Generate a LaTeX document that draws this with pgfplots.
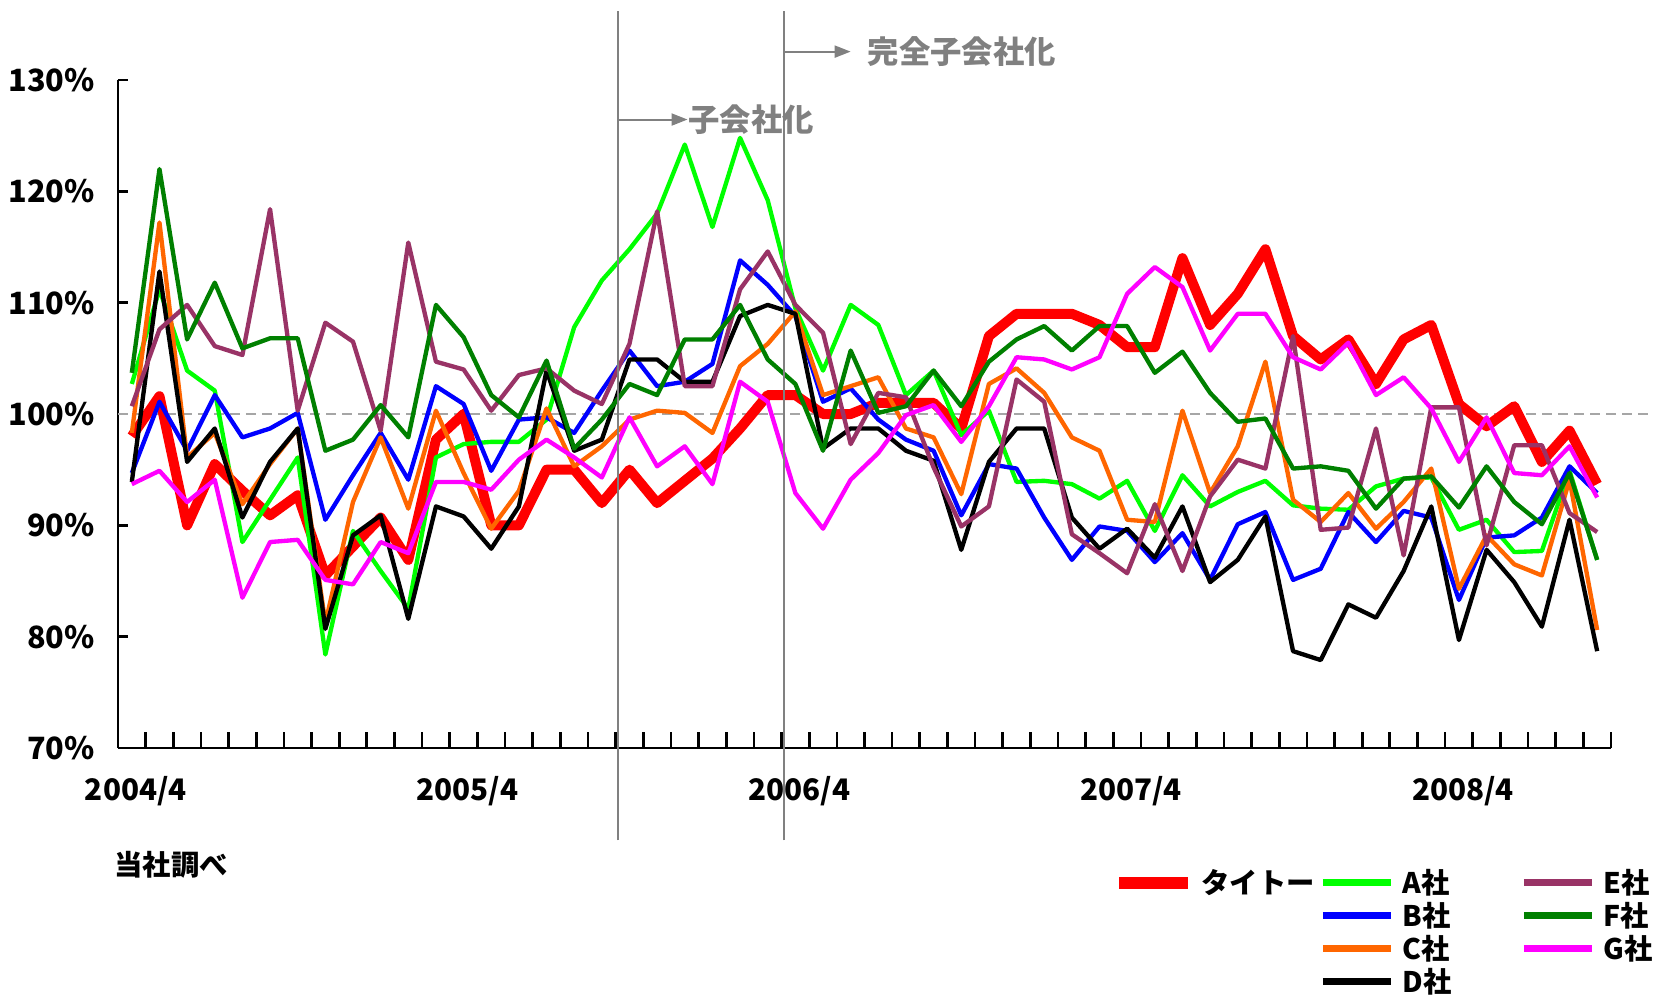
\documentclass[border=0pt]{standalone}
\usepackage{fontspec}
\setmainfont{Noto Sans CJK JP}
\usepackage{pgfplots}
\pgfplotsset{compat=1.18}
\usepackage{pgfplotstable}
\usetikzlibrary{arrows.meta}
\definecolor{cT}{HTML}{FF0000}
\definecolor{cA}{HTML}{00FF00}
\definecolor{cB}{HTML}{0000FF}
\definecolor{cC}{HTML}{FF6600}
\definecolor{cD}{HTML}{000000}
\definecolor{cE}{HTML}{993366}
\definecolor{cF}{HTML}{008000}
\definecolor{cG}{HTML}{FF00FF}
\definecolor{ann}{HTML}{808080}
\definecolor{refl}{HTML}{A6A6A6}

\pgfplotstableread{
i T A B C D E F G
0 98 102.7 94.7 98.3 93.9 100.7 103.7 93.7
1 101.6 111.2 101.1 117.2 112.8 107.6 122.0 94.9
2 90 103.9 96.7 96.1 95.7 109.8 106.7 92.1
3 95.5 102.1 101.7 98.3 98.7 106.1 111.8 94.1
4 93.1 88.5 97.9 91.9 90.7 105.3 105.9 83.5
5 90.9 92.3 98.7 95.5 95.7 118.4 106.8 88.5
6 92.7 96.1 100.1 98.7 98.7 100.3 106.8 88.7
7 85.5 78.4 90.5 81.2 80.7 108.2 96.7 85.1
8 88.1 89.5 94.5 92.1 89.1 106.5 97.7 84.7
9 90.7 85.9 98.3 97.9 90.9 98.5 100.8 88.5
10 86.9 82.5 94.1 91.5 81.6 115.4 97.9 87.5
11 97.7 96.1 102.5 100.3 91.7 104.7 109.8 93.9
12 100 97.3 100.9 94.7 90.8 104 106.9 93.9
13 90 97.5 94.9 89.7 87.9 100.3 101.7 93.2
14 90 97.5 99.5 93.1 91.7 103.5 99.7 95.9
15 95 99.5 99.7 100.5 103.9 104.1 104.8 97.7
16 95 107.8 98.3 95.3 96.7 102.1 96.9 96.1
17 92 112 102.1 97.1 97.7 100.9 99.5 94.3
18 95 114.8 105.7 99.5 104.9 106.3 102.7 99.7
19 92 118 102.5 100.3 104.9 118.2 101.7 95.3
20 94 124.2 102.9 100.1 102.9 102.5 106.7 97.1
21 96 116.8 104.5 98.3 102.9 102.5 106.7 93.7
22 98.7 124.8 113.8 104.3 108.8 111.2 109.8 102.9
23 101.7 119.2 111.6 106.3 109.8 114.6 104.9 101.1
24 101.7 109.5 108.8 109.2 109 109.8 102.7 92.9
25 100 103.9 101.1 101.7 96.9 107.3 96.7 89.7
26 100 109.8 102.3 102.5 98.7 97.3 105.7 94.1
27 101 108 99.5 103.3 98.7 101.9 100.1 96.5
28 101 101.7 97.7 98.7 96.7 101.5 100.7 99.9
29 101 103.9 96.7 97.9 95.8 95.2 103.9 100.8
30 98.7 98.1 90.9 92.8 87.8 89.9 100.7 97.5
31 107 100.3 95.5 102.7 95.7 91.7 104.7 100.7
32 109 93.9 95.1 104.1 98.7 103.1 106.7 105.1
33 109 94 90.7 101.9 98.7 101.1 107.9 104.9
34 109 93.7 86.9 97.9 90.7 89.2 105.7 104
35 108 92.4 89.9 96.7 87.9 87.5 107.9 105.1
36 106 94 89.5 90.5 89.7 85.7 107.9 110.8
37 106 89.5 86.7 90.3 87.1 91.9 103.7 113.2
38 114 94.5 89.3 100.3 91.7 85.9 105.6 111.4
39 108 91.7 85.1 92.9 84.9 92.6 101.9 105.7
40 110.8 93 90.1 97.1 86.9 95.9 99.3 109
41 114.8 94 91.2 104.7 90.8 95.1 99.6 109
42 107 91.8 85.1 92.3 78.7 107 95.1 105.1
43 104.9 91.5 86.1 90.3 77.9 89.6 95.3 104
44 106.7 91.4 91.2 92.9 82.9 89.8 94.9 106.4
45 102.7 93.5 88.5 89.7 81.7 98.7 91.5 101.7
46 106.7 94.2 91.3 92.1 85.9 87.3 94.2 103.3
47 108 94.3 90.7 95.1 91.7 100.6 94.4 100.5
48 100.9 89.6 83.3 84.3 79.7 100.6 91.6 95.7
49 98.9 90.5 88.9 89.1 87.8 88.2 95.3 99.7
50 100.7 87.6 89.1 86.5 84.9 97.2 92.1 94.7
51 95.7 87.7 90.7 85.5 80.9 97.2 90.1 94.5
52 98.5 94.9 95.3 94.1 90.5 91.1 94.7 97.1
53 93.7 86.9 92.9 80.6 78.7 89.4 86.9 92.5
}\data

\begin{document}
\begin{tikzpicture}
\path[use as bounding box] (-35.4pt,-73.8pt) rectangle (465pt,224.4pt);
\begin{axis}[
  at={(0pt,0pt)}, anchor=south west,
  scale only axis, width=447.9pt, height=200.4pt,
  xmin=-0.5, xmax=53.5, ymin=70, ymax=130,
  axis x line*=bottom, axis y line*=left,
  axis line style={line width=0.8pt, black},
  xtick={0,12,24,36,48},
  xticklabels={2004/4,2005/4,2006/4,2007/4,2008/4},
  minor xtick={0.5,1.5,...,53.5},
  major x tick style={draw=none},
  minor tick length=4.8pt,
  major tick length=3pt,
  tick align=inside,
  tick style={line width=0.8pt, black},
  ytick={70,80,90,100,110,120,130},
  yticklabels={70\%,80\%,90\%,100\%,110\%,120\%,130\%},
  yticklabel style={anchor=east, inner sep=0pt, xshift=-6.8pt, font=\bfseries\fontsize{9.2}{10}\selectfont},
  xticklabel style={anchor=north, inner sep=0pt, yshift=-8.2pt, xshift=1.2pt, font=\bfseries\fontsize{8.9}{10}\selectfont},
  clip=false,
  legend image code/.code={\draw[#1] (0pt,0pt) -- (20.5pt,0pt);},
  legend columns=3,
  legend cell align=left,
  legend style={at={(0.6661,-0.176)}, anchor=north west, draw=none, fill=none,
    inner sep=0pt, column sep=1.2pt, row sep=0pt,
    nodes={inner xsep=1.2pt, inner ysep=0pt, text width=33pt, align=left, text height=8.1pt, text depth=1.8pt,
      font=\bfseries\fontsize{8.5}{9}\selectfont}},
]
\addplot[refl, line width=0.6pt, dash pattern=on 3pt off 1.8pt, forget plot] coordinates {(-0.5,100) (54.9,100)};

\addplot[cT, line width=3pt, line join=round, forget plot] table[x=i,y=T]{\data};
\addplot[cA, line width=1.3pt, line join=round, forget plot] table[x=i,y=A]{\data};
\addplot[cB, line width=1.3pt, line join=round, forget plot] table[x=i,y=B]{\data};
\addplot[cC, line width=1.3pt, line join=round, forget plot] table[x=i,y=C]{\data};
\addplot[cD, line width=1.3pt, line join=round, forget plot] table[x=i,y=D]{\data};
\addplot[cE, line width=1.3pt, line join=round, forget plot] table[x=i,y=E]{\data};
\addplot[cF, line width=1.3pt, line join=round, forget plot] table[x=i,y=F]{\data};
\addplot[cG, line width=1.3pt, line join=round, forget plot] table[x=i,y=G]{\data};

\addlegendimage{cT, line width=3.6pt}\addlegendentry{タイトー}
\addlegendimage{cA, line width=2pt}\addlegendentry{A社}
\addlegendimage{cE, line width=2pt}\addlegendentry{E社}
\addlegendimage{empty legend}\addlegendentry{}
\addlegendimage{cB, line width=2pt}\addlegendentry{B社}
\addlegendimage{cF, line width=2pt}\addlegendentry{F社}
\addlegendimage{empty legend}\addlegendentry{}
\addlegendimage{cC, line width=2pt}\addlegendentry{C社}
\addlegendimage{cG, line width=2pt}\addlegendentry{G社}
\addlegendimage{empty legend}\addlegendentry{}
\addlegendimage{cD, line width=2pt}\addlegendentry{D社}

\draw[ann, line width=0.6pt] (axis cs:17.6,61.7) -- (axis cs:17.6,136.2);
\draw[ann, line width=0.6pt] (axis cs:23.58,61.7) -- (axis cs:23.58,136.2);
\draw[ann, line width=0.6pt, -{Triangle[length=4.8pt,width=3.6pt]}] (axis cs:17.6,126.45) -- (axis cs:20.1,126.45)
  node[anchor=west, inner sep=0pt, text=ann, font=\bfseries\fontsize{9.4}{10}\selectfont] {子会社化};
\draw[ann, line width=0.6pt, -{Triangle[length=4.8pt,width=3.6pt]}] (axis cs:23.58,132.55) -- (axis cs:26.0,132.55)
  node[anchor=west, inner sep=0pt, xshift=4.8pt, text=ann, font=\bfseries\fontsize{9.4}{10}\selectfont] {完全子会社化};
\node[anchor=west, inner sep=0pt, font=\bfseries\fontsize{8.5}{9}\selectfont] at (axis cs:-0.65,59.5) {当社調べ};
\end{axis}
\end{tikzpicture}
\end{document}
